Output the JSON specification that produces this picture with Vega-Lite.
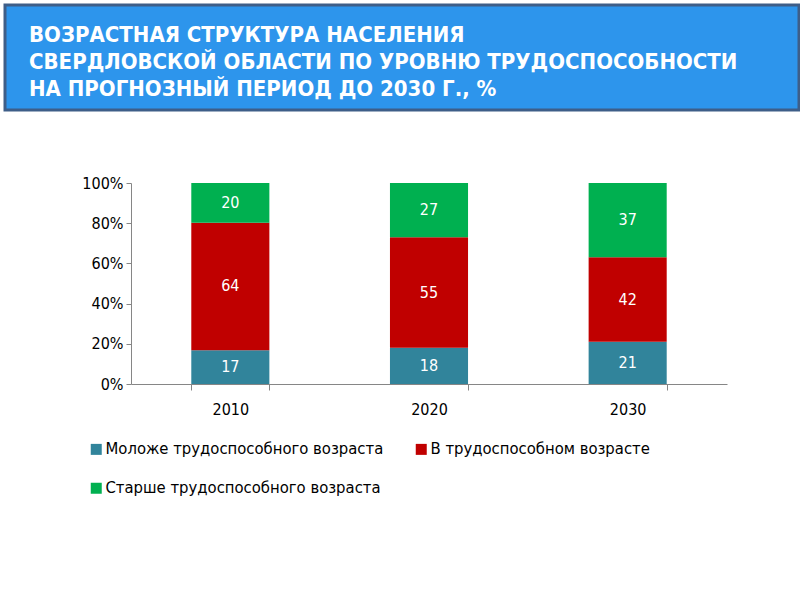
{
  "$schema": "https://vega.github.io/schema/vega-lite/v6.json",
  "background": "white",
  "padding": {"left": 3, "top": 3, "right": 3, "bottom": 0},
  "center": false,
  "spacing": 63,
  "config": {"view": {"stroke": null}},
  "vconcat": [
    {
      "width": 794,
      "height": 105,
      "view": {"fill": "#2D95EC", "stroke": "#3E5E88", "strokeWidth": 3},
      "data": {"values": [
        {"line": 0, "text": "ВОЗРАСТНАЯ СТРУКТУРА НАСЕЛЕНИЯ"},
        {"line": 1, "text": "СВЕРДЛОВСКОЙ ОБЛАСТИ ПО УРОВНЮ ТРУДОСПОСОБНОСТИ"},
        {"line": 2, "text": "НА ПРОГНОЗНЫЙ ПЕРИОД ДО 2030 Г., %"}
      ]},
      "mark": {"type": "text", "align": "left", "baseline": "middle", "color": "white", "font": "DejaVu Sans Condensed", "fontWeight": "bold", "fontSize": 22, "dx": 24},
      "encoding": {
        "x": {"datum": 0, "type": "quantitative", "scale": {"domain": [0, 1]}, "axis": null},
        "y": {"field": "line", "type": "ordinal", "scale": {"type": "point", "range": [30, 84], "padding": 0}, "axis": null},
        "text": {"field": "text"}
      }
    },
    {
      "width": 722,
      "height": 201,
      "data": {"values": [
        {"year": "2010", "group": "Моложе трудоспособного возраста", "k": 1, "value": 17},
        {"year": "2010", "group": "В трудоспособном возрасте", "k": 2, "value": 64},
        {"year": "2010", "group": "Старше трудоспособного возраста", "k": 3, "value": 20},
        {"year": "2020", "group": "Моложе трудоспособного возраста", "k": 1, "value": 18},
        {"year": "2020", "group": "В трудоспособном возрасте", "k": 2, "value": 55},
        {"year": "2020", "group": "Старше трудоспособного возраста", "k": 3, "value": 27},
        {"year": "2030", "group": "Моложе трудоспособного возраста", "k": 1, "value": 21},
        {"year": "2030", "group": "В трудоспособном возрасте", "k": 2, "value": 42},
        {"year": "2030", "group": "Старше трудоспособного возраста", "k": 3, "value": 37}
      ]},
      "encoding": {
        "x": {
          "field": "year", "type": "nominal", "title": null,
          "scale": {"range": [126, 722], "paddingInner": 0.607, "paddingOuter": 0.3035},
          "axis": {"labelAngle": 0, "labelFont": "DejaVu Sans Condensed", "labelFontSize": 16, "labelColor": "#000", "labelPadding": 11, "domainColor": "#868686", "tickColor": "#868686", "tickSize": 6, "tickBand": "extent", "ticks": true}
        }
      },
      "layer": [
        {
          "mark": {"type": "bar"},
          "encoding": {
            "y": {
              "field": "value", "type": "quantitative", "stack": "normalize", "title": null,
              "scale": {"domain": [0, 1]},
              "axis": {"values": [0, 0.2, 0.4, 0.6, 0.8, 1], "format": ".0%", "grid": false, "offset": -126, "labelFont": "DejaVu Sans Condensed", "labelFontSize": 16, "labelColor": "#000", "labelPadding": 3, "domainColor": "#868686", "tickColor": "#868686", "tickSize": 5}
            },
            "order": {"field": "k", "type": "quantitative"},
            "color": {
              "field": "group", "type": "nominal", "title": null,
              "sort": ["Моложе трудоспособного возраста", "В трудоспособном возрасте", "Старше трудоспособного возраста"],
              "scale": {"domain": ["Моложе трудоспособного возраста", "В трудоспособном возрасте", "Старше трудоспособного возраста"], "range": ["#31849B", "#C00000", "#00B050"]},
              "legend": {"orient": "none", "legendX": 83, "legendY": 436, "direction": "horizontal", "columns": 2, "columnPadding": 29, "rowPadding": 22, "symbolType": "square", "symbolSize": 121, "symbolStrokeWidth": 0, "labelFont": "DejaVu Sans Condensed", "labelFontSize": 16.5, "labelColor": "#000", "labelOffset": 1, "labelLimit": 400}
            }
          }
        },
        {
          "transform": [
            {"stack": "value", "groupby": ["year"], "sort": [{"field": "k", "order": "ascending"}], "offset": "normalize", "as": ["v0", "v1"]},
            {"calculate": "(datum.v0 + datum.v1) / 2", "as": "mid"}
          ],
          "mark": {"type": "text", "color": "white", "font": "DejaVu Sans Condensed", "fontSize": 16, "baseline": "middle"},
          "encoding": {
            "y": {"field": "mid", "type": "quantitative"},
            "text": {"field": "value", "type": "quantitative"}
          }
        }
      ]
    }
  ]
}
